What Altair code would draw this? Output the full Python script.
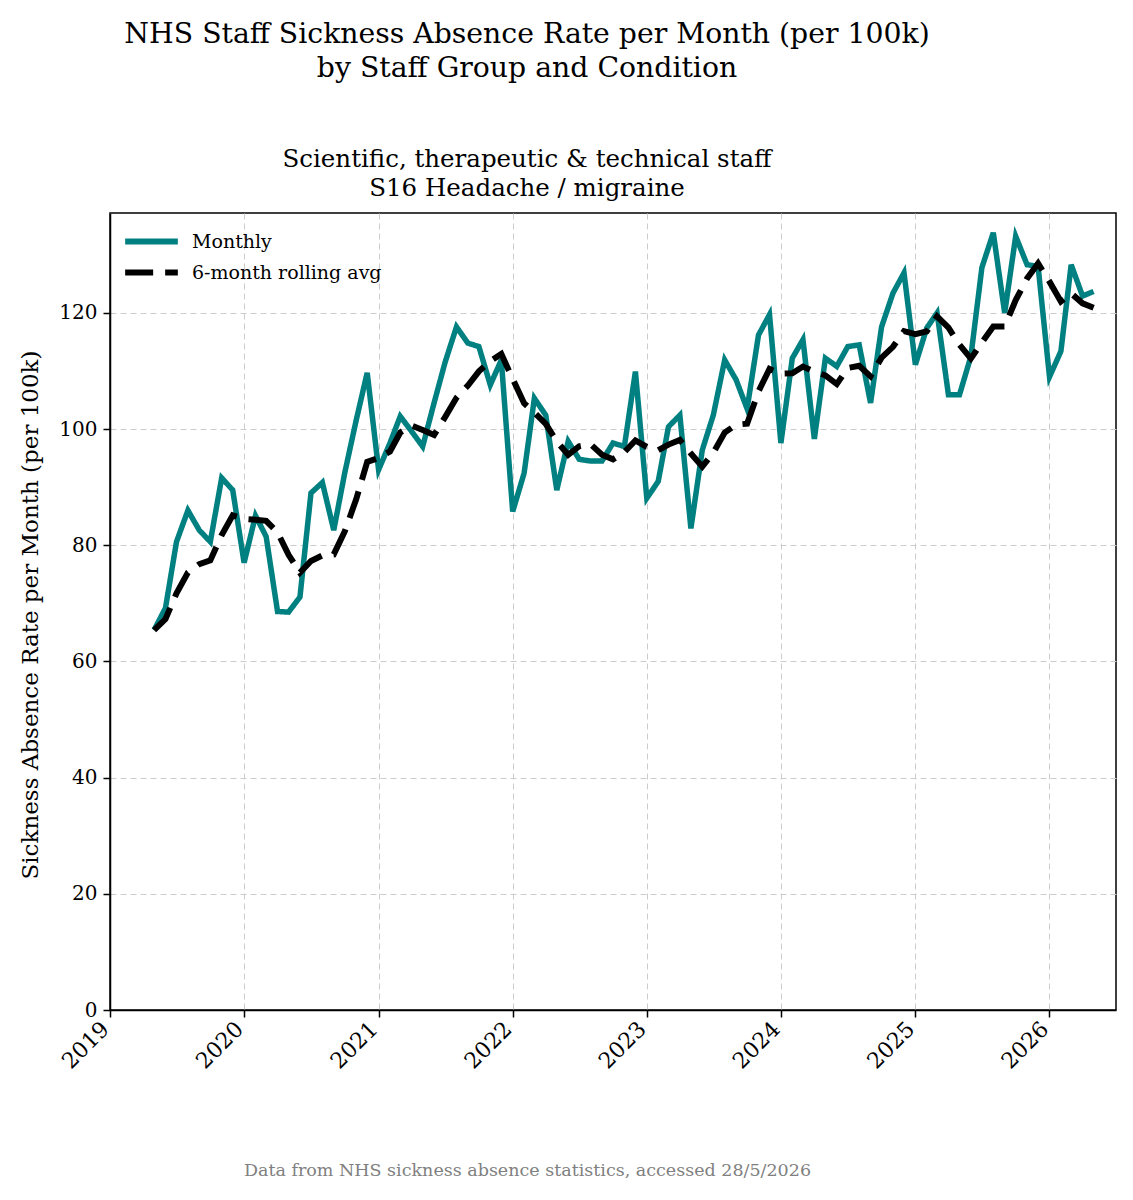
import altair as alt
import pandas as pd

# ---- data (monthly, May 2019 .. May 2026) ----
start_month = "2019-05-01"
monthly_rate = [
    # 2019 May-Dec
    65.4, 69.2, 80.6, 86.0, 82.6, 80.6, 91.6, 89.5,
    # 2020
    77.0, 85.1, 81.5, 68.6, 68.5, 71.1, 89.0, 90.8, 82.6, 92.5, 101.5, 109.7,
    # 2021
    93.0, 97.6, 102.2, 99.6, 97.0, 104.5, 111.5, 117.6, 114.8, 114.2, 107.6, 111.9,
    # 2022
    85.8, 92.4, 105.3, 102.4, 89.5, 97.9, 94.8, 94.5, 94.5, 97.6, 97.0, 109.9,
    # 2023
    88.1, 91.0, 100.4, 102.4, 82.9, 96.4, 102.4, 111.9, 108.5, 103.5, 116.2, 119.7,
    # 2024
    97.6, 112.2, 115.4, 98.3, 112.2, 110.8, 114.2, 114.5, 104.5, 117.6, 123.4, 126.9,
    # 2025
    111.1, 117.4, 120.0, 105.9, 105.9, 112.5, 127.8, 133.8, 120.0, 133.2, 128.3, 128.0,
    # 2026 Jan-May
    109.0, 113.4, 128.3, 122.9, 123.7,
]
month_dates = pd.date_range(start_month, periods=len(monthly_rate), freq="MS").strftime("%Y-%m-%d").tolist()

series_names = ["Monthly", "6-month rolling avg"]
series_colors = ["#008080", "#000000"]
series_dashes = [[1, 0], [28, 12]]
year_ticks = [2019, 2020, 2021, 2022, 2023, 2024, 2025, 2026]
y_ticks = [0, 20, 40, 60, 80, 100, 120]
y_max = 137.2

title_lines = ["NHS Staff Sickness Absence Rate per Month (per 100k)", "by Staff Group and Condition"]
subtitle_lines = ["Scientific, therapeutic & technical staff", "S16 Headache / migraine"]
y_title = "Sickness Absence Rate per Month (per 100k)"
footer = "Data from NHS sickness absence statistics, accessed 28/5/2026"

df = pd.DataFrame({"date": month_dates, "rate": monthly_rate})

FONT = "DejaVu Serif"
W, H = 1006, 797

x_enc = alt.X(
    "date:T",
    scale=alt.Scale(
        type="utc",
        domain=[alt.DateTime(year=2019, month=1, date=1, utc=True),
                alt.DateTime(year=2026, month=7, date=1, utc=True)],
    ),
    axis=alt.Axis(
        values=[alt.DateTime(year=y, month=1, date=1, utc=True) for y in year_ticks],
        format="%Y",
        labelAngle=315,
        labelAlign="right",
        labelBaseline="alphabetic",
        labelPadding=13,
        labelFontSize=22,
        title=footer,
        titleColor="#808080",
        titleFont=FONT,
        titleFontSize=17.5,
        titleFontWeight="normal",
        titleX=417,
        titleY=160,
        titleAlign="center",
        titleBaseline="middle",
    ),
)

y_axis = alt.Axis(
    values=y_ticks,
    labelPadding=6,
    labelFontSize=20,
    title=y_title,
    titleFont=FONT,
    titleFontSize=23,
    titleFontWeight="normal",
    titleColor="black",
    titleAngle=270,
    titleX=-80,
    titleY=H / 2 + 3,
    titleAlign="center",
    titleBaseline="middle",
)

legend = alt.Legend(
    title=None,
    orient="none",
    legendX=23,
    legendY=10,
    symbolType="M-1.7,0H1.7",
    symbolSize=961,
    symbolStrokeWidth=6,
    labelFont=FONT,
    labelFontSize=19,
    labelColor="black",
    labelOffset=22,
    labelLimit=400,
    rowPadding=0,
    padding=0,
)

color_enc = alt.Color("series:N", scale=alt.Scale(domain=series_names, range=series_colors), legend=legend)
dash_enc = alt.StrokeDash("series:N", scale=alt.Scale(domain=series_names, range=series_dashes), legend=legend)

base = alt.Chart(df).transform_window(
    rolling="mean(rate)", frame=[-5, 0], sort=[{"field": "date"}]
)

monthly = base.transform_calculate(series="'Monthly'").mark_line(strokeWidth=5.5).encode(
    x=x_enc,
    y=alt.Y("rate:Q", scale=alt.Scale(domain=[0, y_max], nice=False, zero=True), axis=y_axis),
    color=color_enc,
    strokeDash=dash_enc,
)

rolling = base.transform_calculate(series="'6-month rolling avg'").mark_line(strokeWidth=6).encode(
    x=x_enc,
    y=alt.Y("rolling:Q", scale=alt.Scale(domain=[0, y_max], nice=False, zero=True), axis=y_axis),
    color=color_enc,
    strokeDash=dash_enc,
)

chart = alt.layer(monthly, rolling).properties(
    width=W,
    height=H,
    background="white",
    padding={"left": 102, "top": 205, "right": 1, "bottom": 172},
    autosize=alt.AutoSizeParams(type="none"),
    title=alt.TitleParams(
        text=title_lines,
        subtitle=subtitle_lines,
        anchor="middle",
        dx=-86,
        font=FONT,
        fontSize=28.3,
        fontWeight="normal",
        lineHeight=34,
        color="black",
        subtitleFont=FONT,
        subtitleFontSize=24.5,
        subtitleLineHeight=29,
        subtitleColor="black",
        subtitlePadding=64,
        offset=12,
    ),
).configure_view(
    stroke="black", strokeWidth=1.5
).configure_axis(
    labelFont=FONT,
    labelColor="black",
    tickColor="black",
    tickSize=7,
    tickWidth=1.5,
    domainColor="black",
    domainWidth=1.5,
    gridColor="#cccccc",
    gridDash=[6, 4],
    gridWidth=1,
)

chart.save("out.html", embed_options={"renderer": "svg", "actions": False})
